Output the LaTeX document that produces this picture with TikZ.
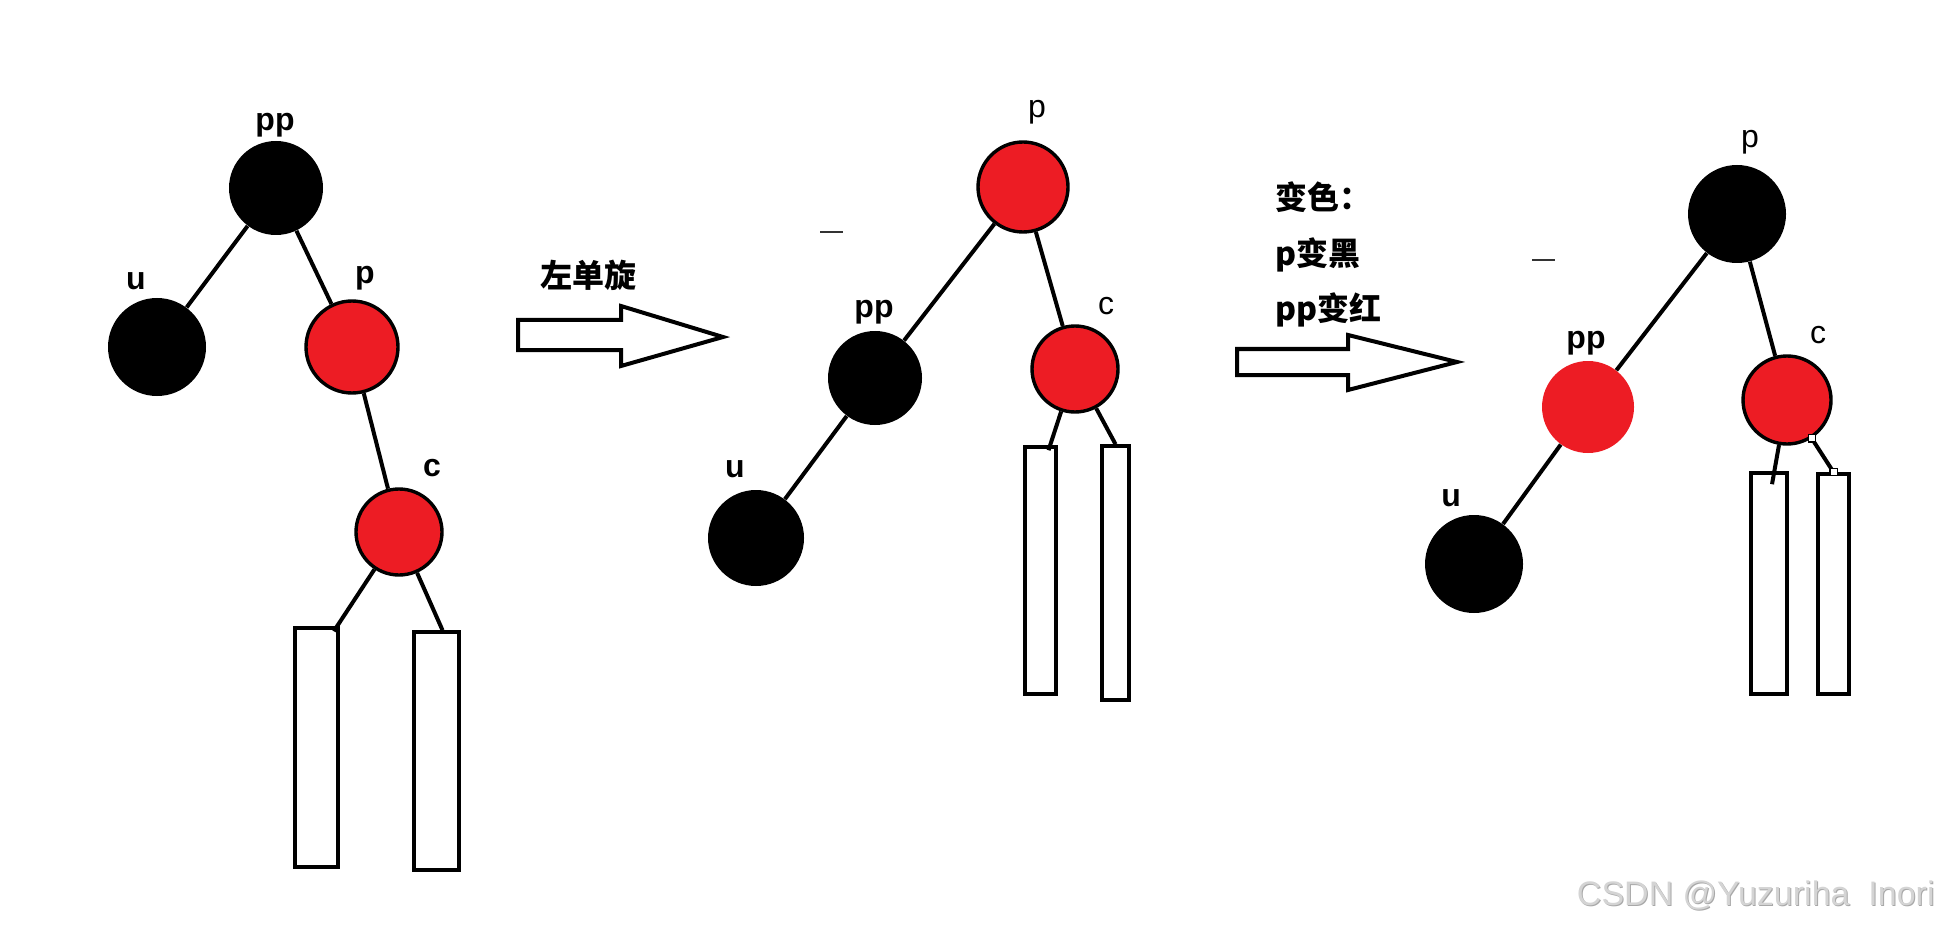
\documentclass[tikz,border=0pt]{standalone}
\usepackage{fontspec}
\setmainfont{Liberation Sans}
\newfontfamily\cjk{Noto Sans CJK SC}
\usetikzlibrary{calc}
\definecolor{rbred}{HTML}{ED1C24}
\definecolor{wm}{HTML}{D4D4D4}
\definecolor{wmshadow}{HTML}{A8A8A8}
\tikzset{
  blk/.style={circle,fill=black,inner sep=0pt,minimum size=#1pt},
  redb/.style={circle,fill=rbred,draw=black,line width=1.7pt,inner sep=0pt,minimum size=#1pt},
  redn/.style={circle,fill=rbred,inner sep=0pt,minimum size=#1pt},
  leaf/.style={rectangle,draw=black,line width=1.8pt,fill=white,inner sep=0pt},
  edge/.style={draw=black,line width=2pt},
  lblb/.style={font=\fontsize{16}{18}\selectfont\bfseries,inner sep=0pt},
  lbl/.style={font=\fontsize{16}{18}\selectfont,inner sep=0pt},
  cjktext/.style={font=\cjk\bfseries\fontsize{16}{18}\selectfont,inner sep=0pt},
  fatarrow/.style={draw=black,line width=2pt,fill=white,line join=miter},
  handle/.style={rectangle,draw=black,line width=0.6pt,fill=white,inner sep=0pt,minimum size=3.6pt},
  stray/.style={draw=black!80,line width=1pt}
}
\begin{document}
\begin{tikzpicture}[x=0.5pt,y=-0.5pt]
\useasboundingbox (0,0) rectangle (1957,930);
% ---------- tree 1 ----------
\node[blk=47] (pp1) at (276,188) {};
\node[blk=49] (u1) at (157,347) {};
\node[redb=46] (p1) at (352,347) {};
\node[redb=43] (c1) at (399,532) {};
\node[leaf,minimum width=21.5pt,minimum height=119.5pt] (rl1) at (316.5,747.5) {};
\node[leaf,minimum width=22.5pt,minimum height=119pt] (rr1) at (436.5,751) {};
\draw[edge] (pp1) -- (u1);
\draw[edge] (pp1) -- (p1);
\draw[edge] (p1) -- (c1);
\draw[edge] (c1) -- ($(rl1.north east)+(-6,5)$);
\draw[edge] (c1) -- ($(rr1.north)+(6,0)$);
\node[lblb] (lpp1) at (275,125) {pp};
\node[lblb] (lu1) at (136,281) {u};
\node[lblb] (lp1) at (365,278) {p};
\node[lblb] (lc1) at (432,468) {c};
% ---------- arrow 1 ----------
\draw[fatarrow] (518,320) -- (621,320) -- (621,306) -- (723,337) -- (621,366) -- (621,350) -- (518,350) -- cycle;
\node[cjktext] (t1) at (588,275) {左单旋};
% ---------- tree 2 ----------
\node[redb=45] (p2) at (1023,187) {};
\node[blk=47] (pp2) at (875,378) {};
\node[redb=43] (c2) at (1075,369) {};
\node[blk=48] (u2) at (756,538) {};
\node[leaf,minimum width=15.5pt,minimum height=123.5pt] (rl2) at (1040.5,570.5) {};
\node[leaf,minimum width=13.5pt,minimum height=127pt] (rr2) at (1115.5,573) {};
\draw[edge] (p2) -- (pp2);
\draw[edge] (p2) -- (c2);
\draw[edge] (pp2) -- (u2);
\draw[edge] (c2) -- ($(rl2.north)+(8,5)$);
\draw[edge] (c2) -- (rr2.north);
\node[lbl] (lp2) at (1037,112) {p};
\node[lblb] (lpp2) at (874,312) {pp};
\node[lbl] (lc2) at (1106,306) {c};
\node[lblb] (lu2) at (735,469) {u};
\draw[stray] (820,232) -- (843,232);
% ---------- arrow 2 ----------
\draw[fatarrow] (1237,349) -- (1348,349) -- (1348,335) -- (1457,362) -- (1348,390) -- (1348,375) -- (1237,375) -- cycle;
\node[cjktext,anchor=west] (t2a) at (1275,197) {变色：};
\node[cjktext,anchor=west] (t2b) at (1275,255) {p变黑};
\node[cjktext,anchor=west] (t2c) at (1275,310) {pp变红};
% ---------- tree 3 ----------
\node[blk=49] (p3) at (1737,214) {};
\node[redn=46] (pp3) at (1588,407) {};
\node[redb=44] (c3) at (1787,400) {};
\node[blk=49] (u3) at (1474,564) {};
\node[leaf,minimum width=18pt,minimum height=110.5pt] (rl3) at (1769,583.5) {};
\node[leaf,minimum width=15.5pt,minimum height=110pt] (rr3) at (1833.5,584) {};
\draw[edge] (p3) -- (pp3);
\draw[edge] (p3) -- (c3);
\draw[edge] (pp3) -- (u3);
\draw[edge] (c3) -- ($(rl3.north)+(3,13)$);
\draw[edge] (c3) -- (rr3.north) node[handle,pos=0] (h1) {} node[handle,pos=1] (h2) {};
\node[lbl] (lp3) at (1750,142) {p};
\node[lblb] (lpp3) at (1586,343) {pp};
\node[lbl] (lc3) at (1818,335) {c};
\node[lblb] (lu3) at (1451,498) {u};
\draw[stray] (1532,260) -- (1555,260);
% ---------- watermark ----------
\node[font=\fontsize{17}{19}\selectfont,text=wmshadow,anchor=east,inner sep=0pt] (wms) at (1936,897) {CSDN @Yuzuriha\ \ Inori};
\node[font=\fontsize{17}{19}\selectfont,text=wm,anchor=east,inner sep=0pt] (wmt) at (1935,896) {CSDN @Yuzuriha\ \ Inori};
\end{tikzpicture}
\end{document}
